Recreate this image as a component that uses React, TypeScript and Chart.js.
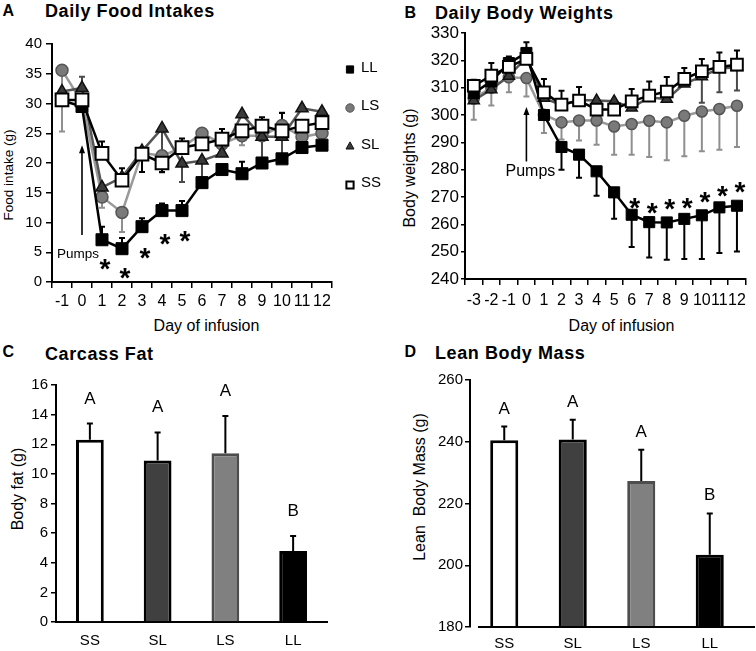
import React, { useEffect, useRef } from "react";
import { Chart, registerables } from "chart.js";

Chart.register(...registerables);

const FF = "'Liberation Sans', Arial, Helvetica, sans-serif";

// ---------- Panel A: Daily Food Intakes ----------
const daysA = ["-1", "0", "1", "2", "3", "4", "5", "6", "7", "8", "9", "10", "11", "12"];
const foodLL = [30.5, 29.5, 7.1, 5.6, 9.3, 12.0, 12.0, 16.7, 18.9, 18.2, 20.0, 20.7, 22.6, 23.0];
const foodLS = [35.6, 30.2, 14.3, 11.7, 21.7, 21.2, 22.6, 25.0, 23.2, 24.6, 24.6, 26.3, 24.4, 25.0];
const foodSL = [32.0, 32.6, 15.9, 17.6, 22.0, 25.8, 19.9, 20.4, 21.6, 28.2, 24.4, 24.4, 29.2, 28.6];
const foodSS = [30.6, 30.6, 21.6, 17.1, 21.5, 20.0, 22.6, 23.2, 24.0, 25.4, 26.2, 25.4, 26.2, 26.8];
const foodErrLL = [0, 0, 2.2, 1.8, 1.4, 1.2, 1.6, 0, 0, 2.0, 0, 0, 0, 0];
const foodErrLS = [-10.3, 0, -1.8, -3.3, -3.2, -2.8, 0, 0, 0, -1.6, 0, 2.2, 0, 0];
const foodErrSL = [0, 1.9, 0, 0, 0, -4.0, -3.1, -2.8, 0, 0, -4.2, -3.6, 0, 0];
const foodErrSS = [0, 0, 2.0, 2.0, -3.0, -1.5, 1.5, 0, 1.7, 0, 1.5, 3.0, 0, 0];
const sigDaysA = ["1", "2", "3", "4", "5"];
const sigLevelA = [3.2, 1.7, 5.1, 7.4, 7.9];
const pumpDayA = "0";
const pumpArrowA = [7.9, 23.0];
const pumpLabelA = 4.9;

// ---------- Panel B: Daily Body Weights ----------
const daysB = ["-3", "-2", "-1", "0", "1", "2", "3", "4", "5", "6", "7", "8", "9", "10", "11", "12"];
const bwLL = [308.0, 312.3, 319.0, 322.7, 300.0, 288.3, 285.5, 279.4, 271.7, 263.5, 260.8, 260.7, 262.0, 263.3, 266.2, 266.8];
const bwLS = [306.0, 310.0, 313.8, 313.5, 300.1, 297.3, 298.0, 298.0, 295.8, 296.7, 297.9, 297.3, 299.7, 301.3, 302.2, 303.4];
const bwSL = [305.3, 309.3, 314.3, 321.0, 306.2, 303.6, 305.5, 305.3, 305.0, 302.6, 306.5, 305.8, 311.4, 314.1, 317.0, 317.5];
const bwSS = [310.7, 314.4, 317.6, 320.5, 308.3, 303.8, 305.3, 302.0, 302.0, 305.0, 307.1, 308.6, 313.2, 316.0, 317.6, 318.4];
const bwErrLL = [0, 0, 0, 3.9, 0, -8.3, -8.5, -8.9, -9.7, -11.8, -12.9, -13.7, -14.7, -16.0, -16.7, -16.7];
const bwErrLS = [-7.7, -6.5, -5.5, -6.7, -6.7, -6.3, -7.3, -8.9, -10.3, -11.2, -13.3, -13.9, -14.8, -14.6, -14.9, -15.1];
const bwErrSL = [0, 0, 0, 0, 0, 0, 0, 0, 0, 0, 0, 0, 0, -9.6, -8.7, -8.5];
const bwErrSS = [2.2, 4.6, 3.8, 0, 4.9, 5.1, 4.9, 0, 0, 4.5, 5.2, 5.3, 4.0, 4.5, 5.3, 5.2];
const sigDaysB = ["6", "7", "8", "9", "10", "11", "12"];
const sigLevelB = [268.4, 266.6, 267.8, 268.4, 270.6, 272.7, 274.1];
const pumpDayB = "0";
const pumpArrowB = [283.0, 302.9];
const pumpLabelB = 279.7;

// ---------- Panels C & D ----------
const groups = ["SS", "SL", "LS", "LL"];
const fatMean = [12.3, 10.9, 11.4, 4.8];
const fatErr = [1.1, 1.9, 2.5, 1.0];
const fatLetters = ["A", "A", "A", "B"];
const leanMean = [240.5, 240.7, 227.3, 203.4];
const leanErr = [4.4, 6.4, 10.1, 13.4];
const leanLetters = ["A", "A", "A", "B"];

// ---------- styles ----------
const barFill = ["#ffffff", "#404040", "#808080", "#000000"];
const barEdge = ["#000000", "#000000", "#4d4d4d", "#000000"];

function drawErr(chart: any, opts: any) {
  const ctx = chart.ctx;
  const ys = chart.scales.y;
  chart.data.datasets.forEach((ds: any, di: number) => {
    if (!ds.errors) return;
    const meta = chart.getDatasetMeta(di);
    ds.errors.forEach((e: number, i: number) => {
      if (!e) return;
      const el = meta.data[i];
      if (!el) return;
      const v = ds.data[i];
      const y0 = ys.getPixelForValue(v);
      const y1 = ys.getPixelForValue(v + e);
      ctx.save();
      ctx.strokeStyle = ds.errorColor || "#000";
      ctx.lineWidth = opts.width || 2;
      ctx.beginPath();
      ctx.moveTo(el.x, y0);
      ctx.lineTo(el.x, y1);
      ctx.moveTo(el.x - opts.cap, y1);
      ctx.lineTo(el.x + opts.cap, y1);
      ctx.stroke();
      ctx.restore();
    });
  });
}

const errorBarPlugin = {
  id: "errorBars",
  beforeDatasetsDraw(chart: any, _a: any, opts: any) {
    if (opts.layer === "under") drawErr(chart, opts);
  },
  afterDatasetsDraw(chart: any, _a: any, opts: any) {
    if (opts.layer === "over") drawErr(chart, opts);
  },
};

function drawArrow(ctx: any, x: number, yBottom: number, yTop: number) {
  ctx.save();
  ctx.strokeStyle = "#000";
  ctx.fillStyle = "#000";
  ctx.lineWidth = 1.6;
  ctx.beginPath();
  ctx.moveTo(x, yBottom);
  ctx.lineTo(x, yTop + 6);
  ctx.stroke();
  ctx.beginPath();
  ctx.moveTo(x, yTop);
  ctx.lineTo(x - 3, yTop + 8);
  ctx.lineTo(x + 3, yTop + 8);
  ctx.closePath();
  ctx.fill();
  ctx.restore();
}

function drawMarker(ctx: any, style: string, x: number, y: number, r: number, fill: string, stroke: string, lw: number) {
  ctx.save();
  ctx.fillStyle = fill;
  ctx.strokeStyle = stroke;
  ctx.lineWidth = lw;
  ctx.beginPath();
  if (style === "rect") {
    ctx.rect(x - r, y - r, 2 * r, 2 * r);
  } else if (style === "circle") {
    ctx.arc(x, y, r, 0, Math.PI * 2);
  } else {
    ctx.moveTo(x, y - r * 1.1);
    ctx.lineTo(x + r * 0.95, y + r * 0.6);
    ctx.lineTo(x - r * 0.95, y + r * 0.6);
    ctx.closePath();
  }
  ctx.fill();
  ctx.stroke();
  ctx.restore();
}

function drawStars(chart: any, labels: string[], days: string[], levels: number[], size: number) {
  const { ctx, scales } = chart;
  ctx.save();
  ctx.fillStyle = "#000";
  ctx.font = `bold ${size}px ${FF}`;
  ctx.textAlign = "center";
  ctx.textBaseline = "alphabetic";
  days.forEach((d, i) => {
    const px = scales.x.getPixelForValue(labels.indexOf(d)) + 3;
    const py = scales.y.getPixelForValue(levels[i]);
    ctx.fillText("*", px, py + 0.55 * size);
  });
  ctx.restore();
}

function drawPumps(chart: any, labels: string[], day: string, arrow: number[], labelLevel: number, size: number, dx: number) {
  const { ctx, scales } = chart;
  const px = scales.x.getPixelForValue(labels.indexOf(day));
  drawArrow(ctx, px, scales.y.getPixelForValue(arrow[0]), scales.y.getPixelForValue(arrow[1]));
  ctx.save();
  ctx.fillStyle = "#000";
  ctx.font = `${size}px ${FF}`;
  ctx.textAlign = "center";
  ctx.textBaseline = "alphabetic";
  ctx.fillText("Pumps", px + dx, scales.y.getPixelForValue(labelLevel) + 0.358 * size);
  ctx.restore();
}

const annotA = {
  id: "annotA",
  afterDraw(chart: any) {
    drawStars(chart, daysA, sigDaysA, sigLevelA, 28);
    drawPumps(chart, daysA, pumpDayA, pumpArrowA, pumpLabelA, 13.5, -4);
    // legend
    const { ctx, chartArea } = chart;
    const mx = chartArea.right + 18;
    const tx = chartArea.right + 29;
    ctx.save();
    chart.data.datasets.forEach((ds: any, i: number) => {
      const ty = chartArea.top + 22.5 + i * 38.5;
      const r = ds.pointStyle === "rect" ? 3.6 : 4.2;
      drawMarker(ctx, ds.pointStyle, mx, ty + 3, r, ds.pointBackgroundColor, ds.pointBorderColor, ds.label === "SS" ? 2 : 1);
      ctx.fillStyle = "#000";
      ctx.font = `15px ${FF}`;
      ctx.textAlign = "left";
      ctx.textBaseline = "alphabetic";
      ctx.fillText(ds.label, tx, ty + 0.358 * 15);
    });
    ctx.restore();
  },
};

const annotB = {
  id: "annotB",
  afterDraw(chart: any) {
    drawStars(chart, daysB, sigDaysB, sigLevelB, 28);
    drawPumps(chart, daysB, pumpDayB, pumpArrowB, pumpLabelB, 16, 4);
  },
};

function letterPlugin(id: string, letters: string[], means: number[], errs: number[], lift: number) {
  return {
    id,
    afterDatasetsDraw(chart: any) {
      const { ctx, scales } = chart;
      const meta = chart.getDatasetMeta(0);
      ctx.save();
      ctx.fillStyle = "#000";
      ctx.font = `17px ${FF}`;
      ctx.textAlign = "center";
      ctx.textBaseline = "alphabetic";
      letters.forEach((t, i) => {
        const el = meta.data[i];
        const top = scales.y.getPixelForValue(means[i] + errs[i]);
        ctx.fillText(t, el.x, top - lift);
      });
      ctx.restore();
    },
  };
}

const extendAxisD = {
  id: "extendAxisD",
  afterDraw(chart: any) {
    const { ctx, chartArea, width } = chart;
    ctx.save();
    ctx.strokeStyle = "#000";
    ctx.lineWidth = 2;
    ctx.beginPath();
    ctx.moveTo(chartArea.left + 8, chartArea.bottom);
    ctx.lineTo(width - 1, chartArea.bottom);
    ctx.stroke();
    ctx.restore();
  },
};

function lineDatasets(ll: number[], ls: number[], sl: number[], ss: number[], ell: number[], els: number[], esl: number[], ess: number[], big: boolean) {
  const k = big ? 1 : 0.92;
  return [
    {
      label: "LL", data: ll, errors: ell, errorColor: "#000",
      borderColor: "#000", backgroundColor: "#000", borderWidth: 2.5,
      pointStyle: "rect", pointRadius: 8.5 * k, pointHoverRadius: 8.5 * k,
      pointBackgroundColor: "#000", pointBorderColor: "#000", pointBorderWidth: 1, order: 1,
    },
    {
      label: "LS", data: ls, errors: els, errorColor: "#8f8f8f",
      borderColor: "#9a9a9a", backgroundColor: "#7a7a7a", borderWidth: 2.5,
      pointStyle: "circle", pointRadius: 6 * k, pointHoverRadius: 6 * k,
      pointBackgroundColor: "#7a7a7a", pointBorderColor: "#555", pointBorderWidth: 1.5, order: 3,
    },
    {
      label: "SL", data: sl, errors: esl, errorColor: "#4a4a4a",
      borderColor: "#555", backgroundColor: "#3a3a3a", borderWidth: 2.5,
      pointStyle: "triangle", pointRadius: 7 * k, pointHoverRadius: 7 * k,
      pointBackgroundColor: "#3a3a3a", pointBorderColor: "#111", pointBorderWidth: 1.5, order: 2,
    },
    {
      label: "SS", data: ss, errors: ess, errorColor: "#000",
      borderColor: "#000", backgroundColor: "#fff", borderWidth: 2.5,
      pointStyle: "rect", pointRadius: 9 * k, pointHoverRadius: 9 * k,
      pointBackgroundColor: "#fff", pointBorderColor: "#000", pointBorderWidth: 2, order: 0,
    },
  ];
}

function lineOptions(p: any) {
  return {
    animation: false,
    responsive: false,
    maintainAspectRatio: false,
    events: [],
    layout: { padding: { top: p.padTop, right: p.padRight, left: 0, bottom: 0 } },
    elements: { line: { tension: 0 } },
    plugins: {
      legend: { display: false },
      tooltip: { enabled: false },
      errorBars: { layer: "under", cap: 3, width: 2 },
    },
    scales: {
      x: {
        type: "category",
        offset: true,
        grid: { display: true, drawOnChartArea: false, drawTicks: true, tickLength: 6, offset: true, color: "#000", lineWidth: 1.5 },
        border: { display: true, color: "#000", width: 2 },
        ticks: { font: { family: FF, size: p.xFont }, color: "#000", padding: p.xPad, maxRotation: 0, minRotation: 0, autoSkip: false },
        afterFit(s: any) { s.height = p.xH; },
      },
      y: {
        min: p.yMin,
        max: p.yMax,
        grid: { display: true, drawOnChartArea: false, drawTicks: true, tickLength: p.yTick, color: "#000", lineWidth: 1.5 },
        border: { display: true, color: "#000", width: 2 },
        ticks: { stepSize: p.yStep, font: { family: FF, size: p.yFont }, color: "#000", padding: p.yPad },
        afterFit(s: any) { s.width = p.yW; },
      },
    },
  };
}

function barOptions(p: any) {
  return {
    animation: false,
    responsive: false,
    maintainAspectRatio: false,
    events: [],
    layout: { padding: { top: p.padTop, right: p.padRight, left: 0, bottom: 0 } },
    plugins: {
      legend: { display: false },
      tooltip: { enabled: false },
      errorBars: { layer: "over", cap: 3, width: 2 },
    },
    scales: {
      x: {
        grid: { display: true, drawOnChartArea: false, drawTicks: false },
        border: { display: p.xBorder, color: "#000", width: 2 },
        ticks: { font: { family: FF, size: 15 }, color: "#000", padding: p.xPad },
        afterFit(s: any) { s.height = p.xH; },
      },
      y: {
        min: p.yMin,
        max: p.yMax,
        grid: { display: true, drawOnChartArea: false, drawTicks: true, tickLength: 5, color: "#000", lineWidth: 1.5 },
        border: { display: true, color: "#000", width: 2 },
        ticks: { stepSize: p.yStep, font: { family: FF, size: 15 }, color: "#000", padding: p.yPad },
        afterFit(s: any) { s.width = p.yW; },
      },
    },
  };
}

const makeA = () => ({
  type: "line",
  data: {
    labels: daysA,
    datasets: lineDatasets(foodLL, foodLS, foodSL, foodSS, foodErrLL, foodErrLS, foodErrSL, foodErrSS, true),
  },
  options: lineOptions({ padTop: 44, padRight: 68, xH: 63, yW: 52, yMin: 0, yMax: 40, yStep: 5, xFont: 16, yFont: 15, xPad: 4, yPad: 4, yTick: 6 }),
  plugins: [errorBarPlugin, annotA],
});

const makeB = () => ({
  type: "line",
  data: {
    labels: daysB,
    datasets: lineDatasets(bwLL, bwLS, bwSL, bwSS, bwErrLL, bwErrLS, bwErrSL, bwErrSS, false),
  },
  options: lineOptions({ padTop: 33, padRight: 6, xH: 66, yW: 87, yMin: 240, yMax: 330, yStep: 10, xFont: 16, yFont: 17, xPad: 6, yPad: 2, yTick: 4 }),
  plugins: [errorBarPlugin, annotB],
});

const makeC = () => ({
  type: "bar",
  data: {
    labels: groups,
    datasets: [{
      data: fatMean, errors: fatErr, errorColor: "#000",
      backgroundColor: barFill, borderColor: barEdge, borderWidth: 3,
      barPercentage: 0.41, categoryPercentage: 1,
    }],
  },
  options: barOptions({ padTop: 40, padRight: 51, xH: 29, yW: 56, yMin: 0, yMax: 16, yStep: 2, xPad: 10, yPad: 3, xBorder: true }),
  plugins: [errorBarPlugin, letterPlugin("lettersC", fatLetters, fatMean, fatErr, 20)],
});

const makeD = () => ({
  type: "bar",
  data: {
    labels: groups,
    datasets: [{
      data: leanMean, errors: leanErr, errorColor: "#000",
      backgroundColor: barFill, borderColor: barEdge, borderWidth: 3,
      barPercentage: 0.41, categoryPercentage: 1,
    }],
  },
  options: barOptions({ padTop: 35, padRight: 12, xH: 24, yW: 92, yMin: 180, yMax: 260, yStep: 20, xPad: 8, yPad: 2, xBorder: false }),
  plugins: [errorBarPlugin, letterPlugin("lettersD", leanLetters, leanMean, leanErr, 13), extendAxisD],
});

function ChartBox({ make, left, top, width, height }: { make: () => any; left: number; top: number; width: number; height: number }) {
  const ref = useRef<HTMLCanvasElement | null>(null);
  useEffect(() => {
    if (!ref.current) return;
    const chart = new Chart(ref.current, make());
    return () => chart.destroy();
  }, [make]);
  return (
    <canvas
      ref={ref}
      width={width}
      height={height}
      style={{ position: "absolute", left, top, width, height, display: "block" }}
    />
  );
}

function Txt({ left, top, size, bold, spacing, children }: any) {
  return (
    <div
      style={{
        position: "absolute", left, top, fontFamily: FF, fontSize: size, fontWeight: bold ? 700 : 400,
        lineHeight: `${size}px`, whiteSpace: "pre", color: "#000", letterSpacing: spacing || 0,
      }}
    >
      {children}
    </div>
  );
}

function AxisTitle({ cx, cy, size, rotate, children }: any) {
  return (
    <div
      style={{
        position: "absolute", left: cx, top: cy, fontFamily: FF, fontSize: size, lineHeight: `${size}px`,
        whiteSpace: "pre", color: "#000",
        transform: `translate(-50%, -50%)${rotate ? " rotate(-90deg)" : ""}`,
      }}
    >
      {children}
    </div>
  );
}

export default function App() {
  return (
    <div style={{ position: "absolute", left: 0, top: 0, width: 756, height: 651, background: "#fff", overflow: "hidden" }}>
      <Txt left={2.5} top={3} size={16} bold>A</Txt>
      <Txt left={45} top={1.7} size={18} bold spacing={0.6}>Daily Food Intakes</Txt>
      <Txt left={404.5} top={5.2} size={16} bold>B</Txt>
      <Txt left={435} top={3.7} size={18} bold spacing={0.6}>Daily Body Weights</Txt>
      <Txt left={2.5} top={344} size={16} bold>C</Txt>
      <Txt left={45} top={345.2} size={18} bold spacing={0.6}>Carcass Fat</Txt>
      <Txt left={404.5} top={344} size={16} bold>D</Txt>
      <Txt left={435} top={343.7} size={18} bold spacing={0.6}>Lean Body Mass</Txt>

      <AxisTitle cx={9} cy={175} size={13.5} rotate>Food intake (g)</AxisTitle>
      <AxisTitle cx={206.5} cy={326} size={16}>Day of infusion</AxisTitle>
      <AxisTitle cx={410} cy={168} size={16} rotate>Body weights (g)</AxisTitle>
      <AxisTitle cx={621.5} cy={326} size={16}>Day of infusion</AxisTitle>
      <AxisTitle cx={18} cy={489} size={16} rotate>Body fat (g)</AxisTitle>
      <AxisTitle cx={420} cy={487} size={16} rotate>{"Lean  Body Mass (g)"}</AxisTitle>

      <ChartBox make={makeA} left={0} top={0} width={400} height={345} />
      <ChartBox make={makeB} left={378} top={0} width={378} height={345} />
      <ChartBox make={makeC} left={0} top={345} width={378} height={306} />
      <ChartBox make={makeD} left={378} top={345} width={378} height={306} />
    </div>
  );
}
